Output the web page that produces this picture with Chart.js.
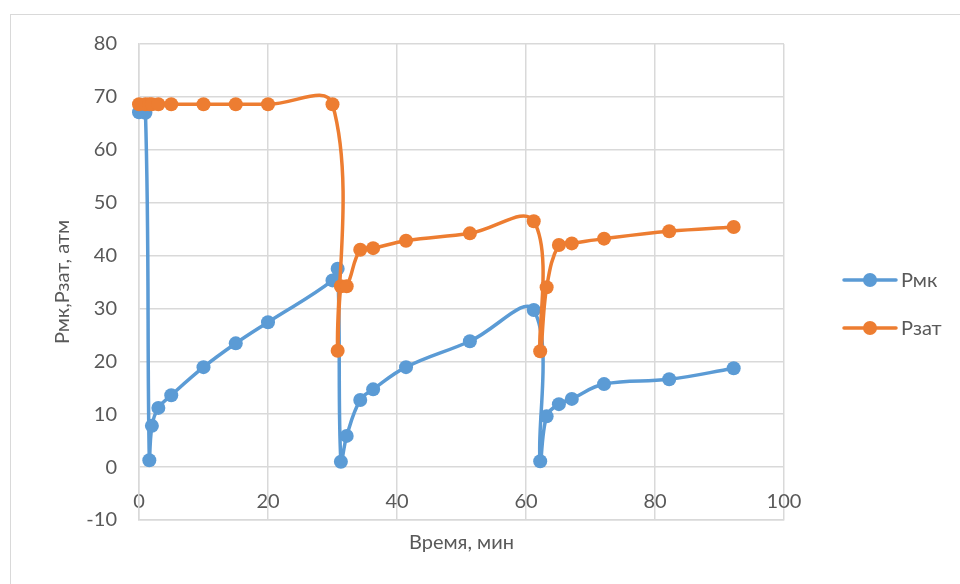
<!DOCTYPE html>
<html>
<head>
<meta charset="utf-8">
<script src="https://cdn.jsdelivr.net/npm/chart.js@4"></script>
<style>
  body { margin: 0; background: #fff; }
  #wrap { position: relative; width: 960px; height: 584px; overflow: hidden; }
  #frame { position: absolute; left: 10px; top: 14px; width: 980px; height: 600px; border: 1.5px solid #d9d9d9; box-sizing: border-box; }
  canvas { position: absolute; left: 0; top: 0; }
</style>
</head>
<body>
<div id="wrap">
  <div id="frame"></div>
  <canvas id="chart" width="960" height="584"></canvas>
</div>
<script>
// time, min
const timeMin = [0, 1, 1.6, 2, 3, 5, 10, 15, 20, 30, 30.8, 31.3, 32.2, 34.3, 36.3, 41.4, 51.3, 61.2, 62.2, 63.2, 65.1, 67.1, 72.1, 82.2, 92.2];
// Рмк, атм
const pmk = [67.1, 67, 1.3, 7.8, 11.2, 13.6, 18.9, 23.4, 27.4, 35.3, 37.5, 1, 5.9, 12.7, 14.7, 18.9, 23.8, 29.7, 1.1, 9.6, 11.9, 12.9, 15.7, 16.6, 18.7];
// Рзат, атм
const pzat = [68.6, 68.6, 68.6, 68.6, 68.6, 68.6, 68.6, 68.6, 68.6, 68.6, 22, 34.2, 34.2, 41.1, 41.4, 42.8, 44.2, 46.5, 21.9, 34, 42, 42.3, 43.2, 44.6, 45.4];
const seriesNames = ["Рмк", "Рзат"];
const seriesColors = ["#5B9BD5", "#ED7D31"];
const xTicks = [0, 20, 40, 60, 80, 100];
const yTicks = [-10, 0, 10, 20, 30, 40, 50, 60, 70, 80];

const FONT = "Lato, 'Open Sans', sans-serif";
const TEXT = "#595959";
const GRID = "#d9d9d9";

function toPoints(ys) {
  return timeMin.map((t, i) => ({ x: t, y: ys[i] }));
}

// Excel-like legend: line with a marker in the middle
const sideLegend = {
  id: "sideLegend",
  afterDraw(chart) {
    const ctx = chart.ctx;
    ctx.save();
    seriesNames.forEach((name, i) => {
      const y = 280 + i * 48;
      ctx.strokeStyle = seriesColors[i];
      ctx.lineWidth = 3.5;
      ctx.lineCap = "round";
      ctx.beginPath();
      ctx.moveTo(844, y);
      ctx.lineTo(896, y);
      ctx.stroke();
      ctx.fillStyle = seriesColors[i];
      ctx.beginPath();
      ctx.arc(870, y, 7, 0, Math.PI * 2);
      ctx.fill();
      ctx.fillStyle = TEXT;
      ctx.font = "20px " + FONT;
      ctx.textBaseline = "middle";
      ctx.fillText(name, 901, y + 1);
    });
    ctx.restore();
  }
};

new Chart(document.getElementById("chart"), {
  type: "scatter",
  data: {
    datasets: [pmk, pzat].map((ys, i) => ({
      label: seriesNames[i],
      data: toPoints(ys),
      order: 1 - i, // second series on top
      clip: false,
      showLine: true,
      tension: 0.4,
      borderColor: seriesColors[i],
      backgroundColor: seriesColors[i],
      borderWidth: 3.5,
      pointRadius: 7,
      pointHoverRadius: 7,
      pointBorderWidth: 0,
    })),
  },
  options: {
    responsive: false,
    animation: false,
    layout: { padding: { left: 0, top: 44, right: 176, bottom: 0 } },
    plugins: {
      legend: { display: false },
      tooltip: { enabled: false },
    },
    scales: {
      x: {
        type: "linear",
        min: 0,
        max: 100,
        afterBuildTicks: (scale) => { scale.ticks = xTicks.map((v) => ({ value: v })); },
        afterFit: (scale) => { scale.height = 64; },
        grid: { color: GRID, lineWidth: 1.5, drawTicks: false },
        border: { color: GRID, width: 1.5 },
        ticks: { display: false },
        title: { display: true, text: "Время, мин", color: TEXT, font: { family: FONT, size: 20 }, padding: { bottom: 29 } },
      },
      // tick labels sit under the zero line, as in Excel
      xLabels: {
        type: "linear",
        axis: "x",
        position: { y: 0 },
        min: 0,
        max: 100,
        afterBuildTicks: (scale) => { scale.ticks = xTicks.map((v) => ({ value: v })); },
        grid: { display: false, drawTicks: false },
        border: { display: false },
        ticks: { color: TEXT, font: { family: FONT, size: 20 }, padding: 22, maxRotation: 0, autoSkip: false },
      },
      y: {
        type: "linear",
        min: -10,
        max: 80,
        afterBuildTicks: (scale) => { scale.ticks = yTicks.map((v) => ({ value: v })); },
        afterFit: (scale) => { scale.width = 139; },
        grid: { color: GRID, lineWidth: 1.5, drawTicks: false },
        border: { color: GRID, width: 1.5 },
        ticks: { color: TEXT, font: { family: FONT, size: 20 }, padding: 22 },
        title: { display: true, text: "Рмк,Рзат, атм", color: TEXT, font: { family: FONT, size: 20 }, padding: { top: 51 } },
      },
    },
  },
  plugins: [sideLegend],
});
</script>
</body>
</html>
